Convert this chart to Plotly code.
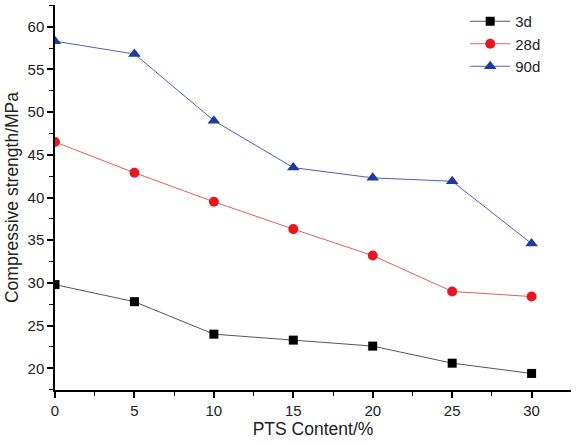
import plotly.graph_objects as go

# PTS content (%) and compressive strength (MPa) at each age
pts_content = [0, 5, 10, 15, 20, 25, 30]
strength_3d = [29.8, 27.8, 24.0, 23.3, 22.6, 20.6, 19.4]
strength_28d = [46.5, 42.9, 39.5, 36.3, 33.2, 29.0, 28.4]
strength_90d = [58.3, 56.8, 49.0, 43.5, 42.3, 41.9, 34.6]

series = [
    ("3d", strength_3d, "#555555", "#000000", "square", 9),
    ("28d", strength_28d, "#e06060", "#e8161e", "circle", 10),
    ("90d", strength_90d, "#5060b0", "#1f3a9e", "triangle-up", 11),
]

fig = go.Figure()
for name, values, line_col, marker_col, symbol, size in series:
    fig.add_trace(go.Scatter(
        x=pts_content, y=values, name=name, mode="lines+markers",
        line=dict(color=line_col, width=1),
        marker=dict(color=marker_col, symbol=symbol, size=size),
    ))

axis_style = dict(
    showline=True, linecolor="black", linewidth=1.5,
    ticks="outside", ticklen=6, tickwidth=1.5, tickcolor="black",
    showgrid=False, zeroline=False, mirror=False, automargin=False,
    tickfont=dict(size=15, color="#222"),
    minor=dict(ticks="outside", ticklen=4, tickwidth=1.2, tickcolor="black"),
)

fig.update_xaxes(range=[0, 32.48], dtick=5, minor_dtick=2.5,
                 title=dict(text="PTS Content/%", font=dict(size=17.5, color="#222"), standoff=3),
                 **axis_style)
fig.update_yaxes(range=[17.46, 62.54], dtick=5, minor_dtick=2.5,
                 title=dict(text="Compressive strength/MPa", font=dict(size=17.5, color="#222"), standoff=4),
                 **axis_style)

fig.update_layout(
    width=583, height=446,
    margin=dict(l=55, r=12, t=5, b=56),
    font=dict(family="Liberation Sans, Arial, sans-serif"),
    plot_bgcolor="white", paper_bgcolor="white",
    legend=dict(x=0.795, y=1.0, xanchor="left", yanchor="top",
                font=dict(size=15, color="#222"), bgcolor="rgba(0,0,0,0)",
                tracegroupgap=0, itemwidth=40),
)

# drop the browser's default page margin so the figure sits at the window corner
fig.write_html("out.html", config={"displayModeBar": False},
               post_script="document.body.style.margin='0';")
